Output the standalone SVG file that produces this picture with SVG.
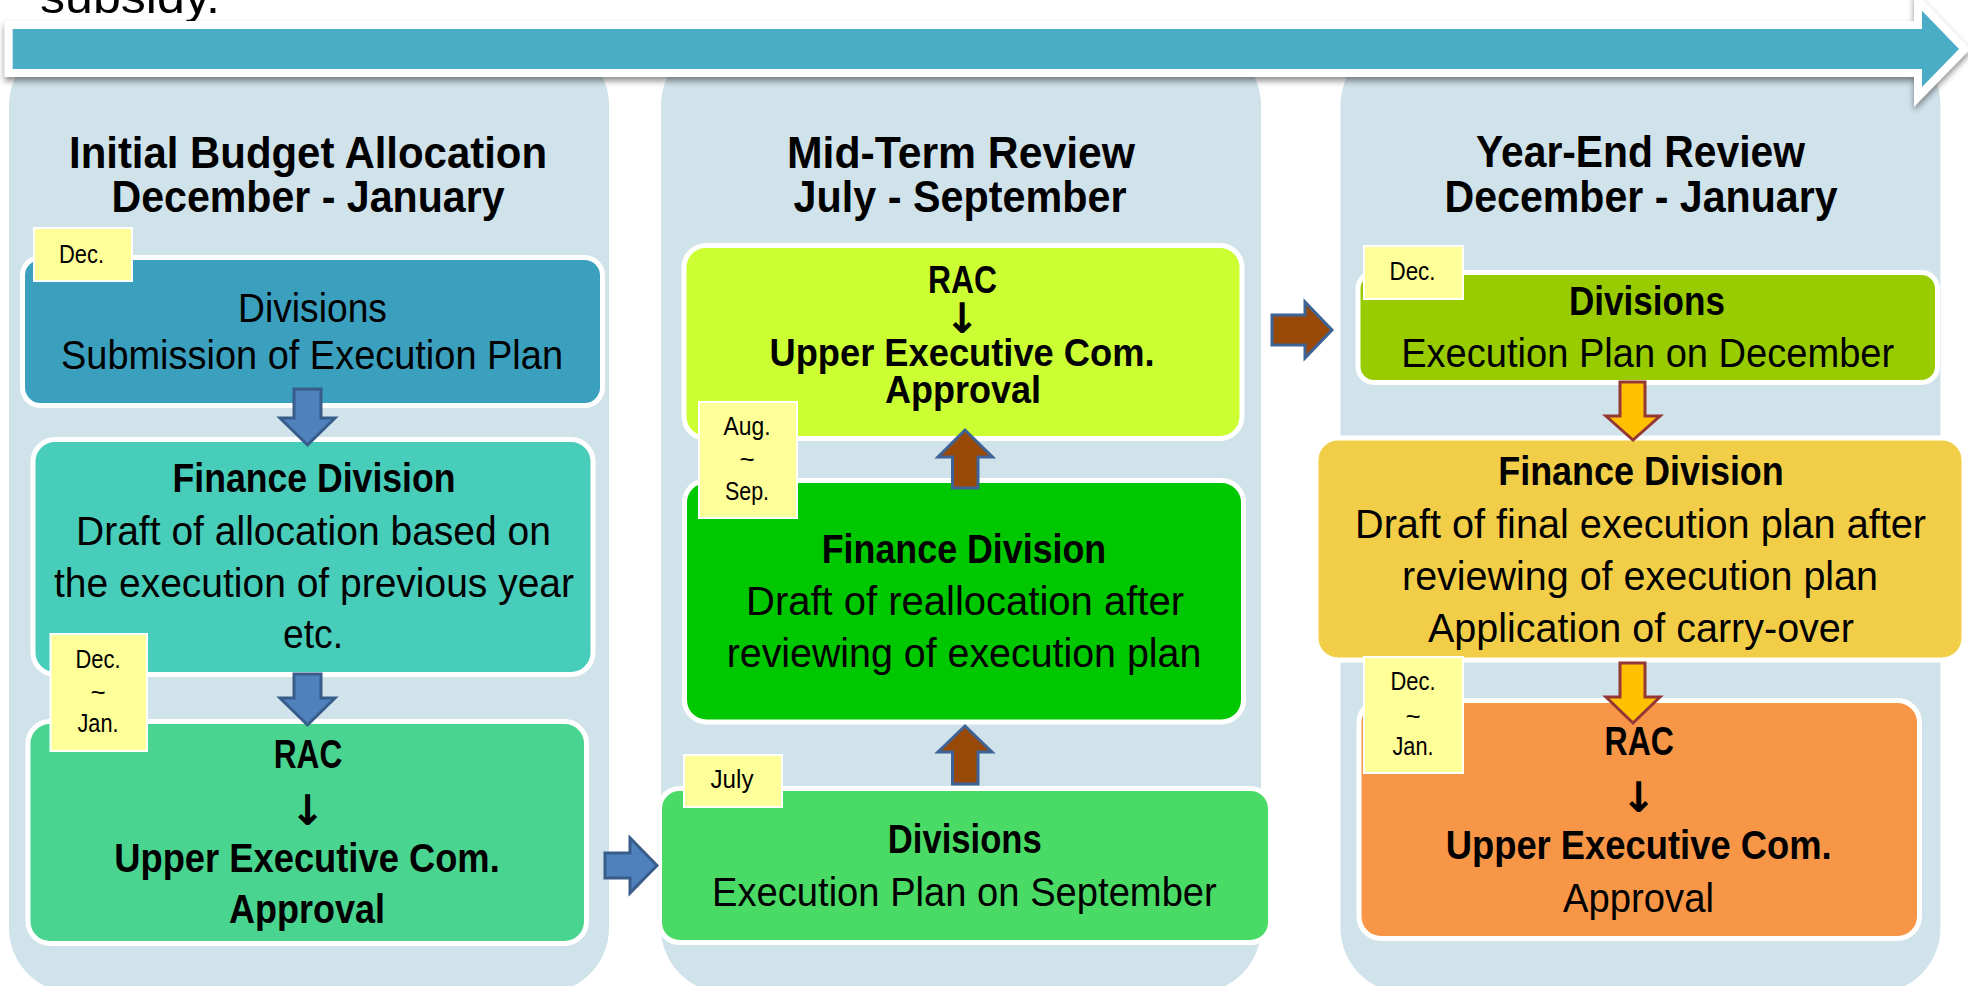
<svg xmlns="http://www.w3.org/2000/svg" width="1968" height="986" viewBox="0 0 1968 986">
<style>
.col{fill:#D0E2EA}
.box{stroke:#FFFFFF;stroke-width:5}
.lbl{fill:#FFFF99;stroke:#FFFFFF;stroke-width:2}
text{font-family:"Liberation Sans",Arial,sans-serif;fill:#000;text-anchor:middle}
text.start{text-anchor:start}
.t{font-size:41px}
.tc{font-size:38px}
.b{font-weight:bold}
.ttl{font-size:45px;font-weight:bold}
.lt{font-size:26px}
.arr{font-family:"DejaVu Sans",sans-serif;font-size:42px;font-weight:bold}
.blue{fill:#4F81BD;stroke:#385D8A;stroke-width:3}
.brown{fill:#984807;stroke:#3E6396;stroke-width:3}
.gold{fill:#FFC000;stroke:#953735;stroke-width:3}
</style>
<defs>
<filter id="sh" x="-5%" y="-50%" width="110%" height="200%">
<feDropShadow dx="0" dy="4" stdDeviation="3" flood-color="#000" flood-opacity="0.45"/>
</filter>
</defs>
<rect width="1968" height="986" fill="#FFFFFF"/>
<text class="start" x="40" y="13" font-size="46" textLength="180" lengthAdjust="spacingAndGlyphs">subsidy.</text>
<g id="columns">
<rect class="col" x="9" y="40" width="600" height="953" rx="65"/>
<rect class="col" x="661" y="40" width="600" height="953" rx="65"/>
<rect class="col" x="1340.5" y="40" width="600" height="953" rx="65"/>
</g>
<g id="timeline">
<polygon points="12.7,29 1922,29 1922,10.7 1959,49 1922,87 1922,69 12.7,69" fill="#FFFFFF" stroke="#FFFFFF" stroke-width="16" stroke-linejoin="miter" filter="url(#sh)"/>
<polygon points="12.7,29 1922,29 1922,10.7 1959,49 1922,87 1922,69 12.7,69" fill="#4BACC6"/>
</g>
<g id="col1-title">
<text class="ttl" x="308" y="168" textLength="478" lengthAdjust="spacingAndGlyphs">Initial Budget Allocation</text>
<text class="ttl" x="308" y="212" textLength="393" lengthAdjust="spacingAndGlyphs">December - January</text>
</g>
<g id="col2-title">
<text class="ttl" x="961" y="168" textLength="348" lengthAdjust="spacingAndGlyphs">Mid-Term Review</text>
<text class="ttl" x="960" y="212" textLength="333" lengthAdjust="spacingAndGlyphs">July - September</text>
</g>
<g id="col3-title">
<text class="ttl" x="1640.5" y="167" textLength="329" lengthAdjust="spacingAndGlyphs">Year-End Review</text>
<text class="ttl" x="1641" y="212" textLength="393" lengthAdjust="spacingAndGlyphs">December - January</text>
</g>
<g id="c1-divisions">
<rect class="box" x="22.5" y="257.5" width="580" height="148" rx="18" fill="#3B9FBE"/>
<text class="t" x="312.5" y="322" textLength="149" lengthAdjust="spacingAndGlyphs">Divisions</text>
<text class="t" x="312" y="369" textLength="502" lengthAdjust="spacingAndGlyphs">Submission of Execution Plan</text>
</g>
<g id="c1-finance">
<rect class="box" x="33" y="439.5" width="560" height="235" rx="22" fill="#48CDBA"/>
<text class="t b" x="314" y="492" textLength="283" lengthAdjust="spacingAndGlyphs">Finance Division</text>
<text class="t" x="313.5" y="545" textLength="475" lengthAdjust="spacingAndGlyphs">Draft of allocation based on</text>
<text class="t" x="314" y="597" textLength="520" lengthAdjust="spacingAndGlyphs">the execution of previous year</text>
<text class="t" x="313" y="648" textLength="60" lengthAdjust="spacingAndGlyphs">etc.</text>
</g>
<g id="c1-rac">
<rect class="box" x="28" y="721.5" width="558.5" height="222" rx="22" fill="#49D490"/>
<text class="t b" x="308" y="768" textLength="68.5" lengthAdjust="spacingAndGlyphs">RAC</text>
<text class="arr" x="307.6" y="825">↓</text>
<text class="t b" x="307" y="872" textLength="385.5" lengthAdjust="spacingAndGlyphs">Upper Executive Com.</text>
<text class="t b" x="307" y="923" textLength="156" lengthAdjust="spacingAndGlyphs">Approval</text>
</g>
<g id="c2-rac">
<rect class="box" x="684" y="245.5" width="558" height="193" rx="22" fill="#CCFF33"/>
<text class="tc b" x="962.5" y="293" textLength="69" lengthAdjust="spacingAndGlyphs">RAC</text>
<text class="arr" x="962" y="333">↓</text>
<text class="tc b" x="962" y="366" textLength="385" lengthAdjust="spacingAndGlyphs">Upper Executive Com.</text>
<text class="tc b" x="963" y="403" textLength="156" lengthAdjust="spacingAndGlyphs">Approval</text>
</g>
<g id="c2-finance">
<rect class="box" x="684.5" y="480.5" width="559" height="241.5" rx="22" fill="#00C800"/>
<text class="t b" x="964" y="563" textLength="284.5" lengthAdjust="spacingAndGlyphs">Finance Division</text>
<text class="t" x="965" y="615" textLength="438" lengthAdjust="spacingAndGlyphs">Draft of reallocation after</text>
<text class="t" x="964" y="667" textLength="474.6" lengthAdjust="spacingAndGlyphs">reviewing of execution plan</text>
</g>
<g id="c2-divisions">
<rect class="box" x="659.5" y="788.5" width="611" height="154" rx="20" fill="#4ADB66"/>
<text class="t b" x="964.8" y="853" textLength="154" lengthAdjust="spacingAndGlyphs">Divisions</text>
<text class="t" x="964.4" y="906" textLength="504.8" lengthAdjust="spacingAndGlyphs">Execution Plan on September</text>
</g>
<g id="c3-divisions">
<rect class="box" x="1358" y="272.5" width="579.5" height="110" rx="16" fill="#99CC00"/>
<text class="t b" x="1647" y="315" textLength="156" lengthAdjust="spacingAndGlyphs">Divisions</text>
<text class="t" x="1647.7" y="367" textLength="493" lengthAdjust="spacingAndGlyphs">Execution Plan on December</text>
</g>
<g id="c3-finance">
<rect class="box" x="1316" y="438" width="648" height="222" rx="22" fill="#F2CE48" stroke-width="4"/>
<text class="t b" x="1641" y="485" textLength="285.6" lengthAdjust="spacingAndGlyphs">Finance Division</text>
<text class="t" x="1640.5" y="538" textLength="571" lengthAdjust="spacingAndGlyphs">Draft of final execution plan after</text>
<text class="t" x="1640" y="590" textLength="476" lengthAdjust="spacingAndGlyphs">reviewing of execution plan</text>
<text class="t" x="1641" y="642" textLength="426" lengthAdjust="spacingAndGlyphs">Application of carry-over</text>
</g>
<g id="c3-rac">
<rect class="box" x="1359" y="700.5" width="560.5" height="238" rx="22" fill="#F79646"/>
<text class="t b" x="1639.3" y="755" textLength="69.4" lengthAdjust="spacingAndGlyphs">RAC</text>
<text class="arr" x="1638.7" y="812">↓</text>
<text class="t b" x="1638.7" y="859" textLength="386" lengthAdjust="spacingAndGlyphs">Upper Executive Com.</text>
<text class="t" x="1638.5" y="912" textLength="151" lengthAdjust="spacingAndGlyphs">Approval</text>
</g>
<g id="connectors">
<polygon class="blue" points="294,389 321,389 321,418 335,418 307.5,445 280,418 294,418"/>
<polygon class="blue" points="294,674 321,674 321,698 335,698 307.5,725 280,698 294,698"/>
<polygon class="blue" points="605,853 630,853 630,838 657,865.5 630,893 630,878 605,878"/>
<polygon class="brown" points="952.5,784 978,784 978,752 992,752 965,726 938,752 952.5,752"/>
<polygon class="brown" points="952.5,488 978,488 978,457 992.5,457 965,430 938,457 952.5,457"/>
<polygon class="brown" points="1272,315 1305,315 1305,302 1332,330 1305,358 1305,345 1272,345"/>
<polygon class="gold" points="1620,382 1645,382 1645,416 1660,416 1633,440 1606,416 1620,416"/>
<polygon class="gold" points="1620,663 1645,663 1645,697 1660,697 1633,723 1606,697 1620,697"/>
</g>
<g id="lbl-dec-1">
<rect class="lbl" x="34" y="228" width="98" height="53"/>
<text class="lt" x="81.5" y="263" textLength="45" lengthAdjust="spacingAndGlyphs">Dec.</text>
</g>
<g id="lbl-decjan-1">
<rect class="lbl" x="50.5" y="634" width="96.5" height="117"/>
<text class="lt" x="98" y="668" textLength="45" lengthAdjust="spacingAndGlyphs">Dec.</text>
<text class="lt" x="98" y="701">~</text>
<text class="lt" x="98" y="732" textLength="41" lengthAdjust="spacingAndGlyphs">Jan.</text>
</g>
<g id="lbl-augsep">
<rect class="lbl" x="699" y="402" width="98" height="116"/>
<text class="lt" x="747" y="435" textLength="47" lengthAdjust="spacingAndGlyphs">Aug.</text>
<text class="lt" x="747" y="468">~</text>
<text class="lt" x="747" y="500" textLength="44" lengthAdjust="spacingAndGlyphs">Sep.</text>
</g>
<g id="lbl-july">
<rect class="lbl" x="684" y="755" width="98" height="52"/>
<text class="lt" x="732" y="788" textLength="43" lengthAdjust="spacingAndGlyphs">July</text>
</g>
<g id="lbl-dec-3">
<rect class="lbl" x="1364" y="246" width="99" height="53"/>
<text class="lt" x="1412.5" y="280" textLength="46" lengthAdjust="spacingAndGlyphs">Dec.</text>
</g>
<g id="lbl-decjan-3">
<rect class="lbl" x="1364" y="657" width="99" height="116"/>
<text class="lt" x="1413" y="690" textLength="45" lengthAdjust="spacingAndGlyphs">Dec.</text>
<text class="lt" x="1413" y="725">~</text>
<text class="lt" x="1413" y="755" textLength="41" lengthAdjust="spacingAndGlyphs">Jan.</text>
</g>
</svg>
